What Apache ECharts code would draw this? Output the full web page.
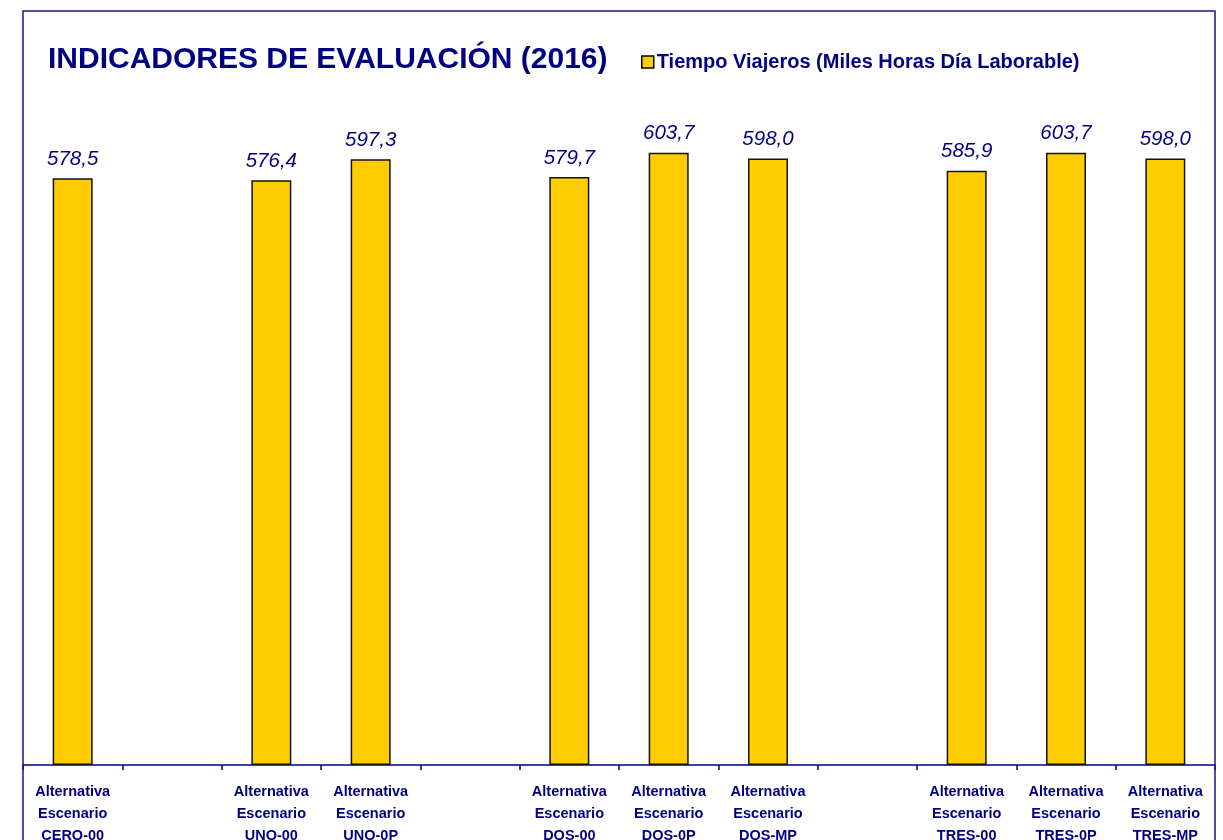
<!DOCTYPE html>
<html>
<head>
<meta charset="utf-8">
<script src="https://cdn.jsdelivr.net/npm/echarts@6/dist/echarts.min.js"></script>
<style>
html, body { margin: 0; padding: 0; background: #fff; }
#container { width: 1223px; height: 840px; }
</style>
</head>
<body>
<div id="container"></div>
<script>
var categories = [
    'Alternativa\nEscenario\nCERO-00', '',
    'Alternativa\nEscenario\nUNO-00', 'Alternativa\nEscenario\nUNO-0P', '',
    'Alternativa\nEscenario\nDOS-00', 'Alternativa\nEscenario\nDOS-0P', 'Alternativa\nEscenario\nDOS-MP', '',
    'Alternativa\nEscenario\nTRES-00', 'Alternativa\nEscenario\nTRES-0P', 'Alternativa\nEscenario\nTRES-MP'
];
var tiempoViajeros = [578.5, '-', 576.4, 597.3, '-', 579.7, 603.7, 598.0, '-', 585.9, 603.7, 598.0];

var navy = '#000080';
var font = 'Liberation Sans, Arial, sans-serif';
var dom = document.getElementById('container');
var myChart = echarts.init(dom);

var option = {
    backgroundColor: '#fff',
    animation: false,
    textStyle: { fontFamily: font },
    title: {
        text: 'INDICADORES DE EVALUACIÓN (2016)',
        left: 43,
        top: 40,
        textStyle: { color: navy, fontSize: 30, fontWeight: 'bold', fontFamily: font }
    },
    legend: {
        left: 636,
        top: 47,
        icon: 'rect',
        itemWidth: 12,
        itemHeight: 12,
        itemGap: 4,
        textStyle: { color: navy, fontSize: 20, fontWeight: 'bold', fontFamily: font, padding: [0, 0, 0, -2] },
        data: [{ name: 'Tiempo Viajeros (Miles Horas Día Laborable)', itemStyle: { color: '#FFCC00', borderColor: '#000', borderWidth: 1.5 } }]
    },
    graphic: [{
        type: 'rect',
        shape: { x: 23, y: 11, width: 1192, height: 850 },
        style: { fill: 'none', stroke: '#1a1a80', lineWidth: 1.5 },
        silent: true,
        z: 100
    }],
    grid: { left: 23, right: 8, top: 55, bottom: 75, containLabel: false, outerBoundsMode: 'none' },
    xAxis: {
        type: 'category',
        data: categories,
        axisLine: { lineStyle: { color: navy, width: 1.5 } },
        axisTick: { show: true, interval: 0, length: 5, lineStyle: { color: navy, width: 1.5 } },
        axisLabel: {
            interval: 0,
            color: navy,
            fontSize: 14.5,
            fontWeight: 'bold',
            lineHeight: 22,
            margin: 16
        }
    },
    yAxis: {
        type: 'value',
        min: 0,
        max: 700,
        show: false,
        splitLine: { show: false }
    },
    series: [{
        name: 'Tiempo Viajeros (Miles Horas Día Laborable)',
        type: 'bar',
        barWidth: 40,
        data: tiempoViajeros,
        itemStyle: { color: '#FFCC00', borderColor: '#111', borderWidth: 1.5 },
        label: {
            show: true,
            position: 'top',
            distance: 9,
            color: navy,
            fontSize: 20.5,
            fontStyle: 'italic',
            formatter: function (p) { return p.value.toFixed(1).replace('.', ','); }
        }
    }]
};

if (option && typeof option === "object") {
    myChart.setOption(option, true);
}
</script>
</body>
</html>
